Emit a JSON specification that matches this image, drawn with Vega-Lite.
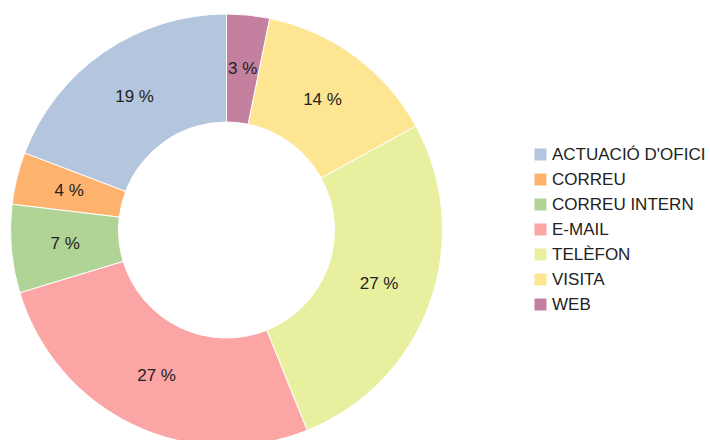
{
  "$schema": "https://vega.github.io/schema/vega-lite/v6.json",
  "width": 453,
  "height": 460,
  "padding": 0,
  "background": "white",
  "config": {"view": {"stroke": null}, "font": "Liberation Sans"},
  "data": {
    "values": [
      {"cat": "ACTUACIÓ D'OFICI", "pct": 19.2, "label": "19 %"},
      {"cat": "CORREU", "pct": 3.9, "label": "4 %"},
      {"cat": "CORREU INTERN", "pct": 6.6, "label": "7 %"},
      {"cat": "E-MAIL", "pct": 26.4, "label": "27 %"},
      {"cat": "TELÈFON", "pct": 26.9, "label": "27 %"},
      {"cat": "VISITA", "pct": 13.8, "label": "14 %"},
      {"cat": "WEB", "pct": 3.2, "label": "3 %"}
    ]
  },
  "encoding": {
    "theta": {"field": "pct", "type": "quantitative", "stack": true},
    "order": {"field": "cat", "sort": "descending"},
    "color": {
      "field": "cat",
      "type": "nominal",
      "scale": {
        "domain": ["ACTUACIÓ D'OFICI", "CORREU", "CORREU INTERN", "E-MAIL", "TELÈFON", "VISITA", "WEB"],
        "range": ["#b3c6dd", "#fdb36e", "#b0d396", "#fca5a5", "#e8f0a0", "#fde592", "#c4809f"]
      },
      "legend": {
        "title": null,
        "orient": "none",
        "legendX": 532,
        "legendY": 146,
        "symbolType": "square",
        "symbolSize": 144,
        "symbolStrokeWidth": 0,
        "labelFontSize": 17,
        "labelFont": "Liberation Sans",
        "labelColor": "#222",
        "labelOffset": 3,
        "rowPadding": 7
      }
    }
  },
  "layer": [
    {
      "mark": {"type": "arc", "outerRadius": 216, "innerRadius": 108, "stroke": "white", "strokeWidth": 1}
    },
    {
      "mark": {"type": "text", "radius": 162, "fontSize": 17, "font": "Liberation Sans", "color": "#222"},
      "encoding": {"text": {"field": "label", "type": "nominal"}, "color": {"value": "#222"}}
    }
  ]
}
